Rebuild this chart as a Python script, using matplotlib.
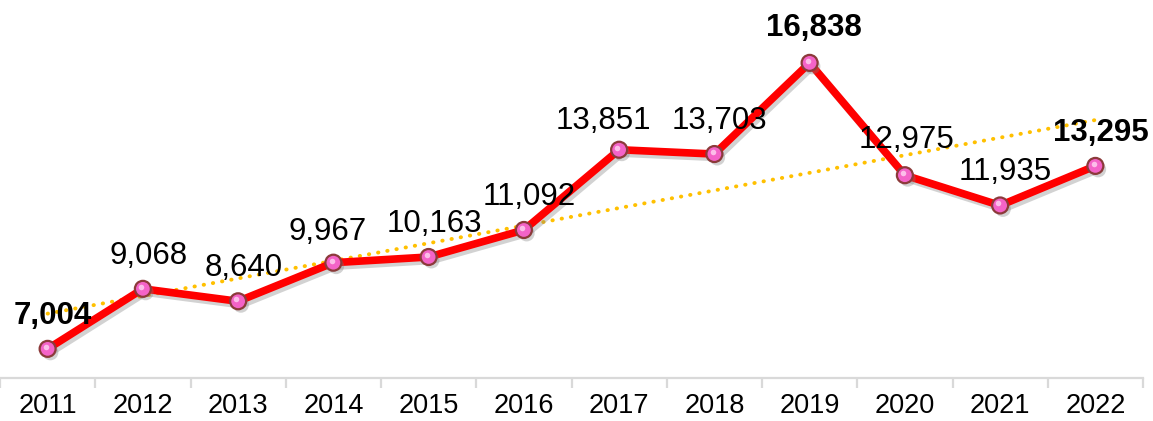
import numpy as np
import matplotlib
matplotlib.use("Agg")
import matplotlib.pyplot as plt
import matplotlib.patheffects as pe
from matplotlib.transforms import offset_copy

plt.rcParams['font.family'] = ['Liberation Sans', 'DejaVu Sans']

years = ['2011', '2012', '2013', '2014', '2015', '2016',
         '2017', '2018', '2019', '2020', '2021', '2022']
values = [7004, 9068, 8640, 9967, 10163, 11092,
          13851, 13703, 16838, 12975, 11935, 13295]
bold_labels = {'2011', '2019', '2022'}

# layout: label offsets in points (dx, dy)
default_offset = (4, 24)
special_offset = {'2017': (-11, 21), '2014': (-4, 22), '2020': (1, 25), '2019': (3, 25)}

fig = plt.figure(figsize=(11.53, 4.21), dpi=100)
ax = fig.add_axes([0.0, 0.102, 1143 / 1153, 0.898])

x = np.arange(len(years))
y = np.array(values, dtype=float)

# trend line (linear fit)
coef = np.polyfit(x, y, 1)
ax.plot(x, np.polyval(coef, x), color='#ffc000', lw=2.8,
        linestyle=(0, (0.1, 2.3)), dash_capstyle='round',
        solid_capstyle='round', zorder=2)

# main line with shadow
ax.plot(x, y, color='#ff0000', lw=5.5, solid_joinstyle='miter', zorder=3,
        path_effects=[pe.SimpleLineShadow(offset=(2, -2.5), shadow_color='#808080', alpha=0.35, rho=0.9),
                      pe.Normal()])

# markers with shadow and highlight
ax.plot(x, y, linestyle='none', marker='o', ms=11.5, mfc='#f463c8',
        mec='#8c3a3a', mew=1.6, zorder=4,
        path_effects=[pe.SimplePatchShadow(offset=(2, -2.5), shadow_rgbFace='#808080', alpha=0.35), pe.Normal()])
ax.plot(x, y, linestyle='none', marker='o', ms=4, mfc='#ffd6f2', mec='none',
        alpha=0.8, zorder=5,
        transform=offset_copy(ax.transData, fig=fig, x=-1.2, y=1.5, units='points'))

# data labels
for xi, yi, yr in zip(x, y, years):
    dx, dy = special_offset.get(yr, default_offset)
    ax.annotate(f'{int(yi):,}', (xi, yi), xytext=(dx, dy), textcoords='offset points',
                ha='center', va='center', fontsize=22.5,
                fontweight='bold' if yr in bold_labels else 'normal',
                color='black', zorder=6)

ax.set_xlim(-0.5, len(years) - 0.5)
ax.set_ylim(6000, 19000)

for s in ['top', 'right', 'left']:
    ax.spines[s].set_visible(False)
ax.spines['bottom'].set_color('#d9d9d9')
ax.spines['bottom'].set_linewidth(1.6)

ax.set_yticks([])
ax.set_xticks(x)
ax.set_xticklabels(years, fontsize=19.5)
ax.tick_params(axis='x', which='major', length=0, pad=11)
ax.set_xticks(np.arange(-0.5, len(years), 1.0), minor=True)
ax.tick_params(axis='x', which='minor', length=7, width=1.6, color='#d9d9d9', direction='out')

fig.savefig('out.png', dpi=100)
